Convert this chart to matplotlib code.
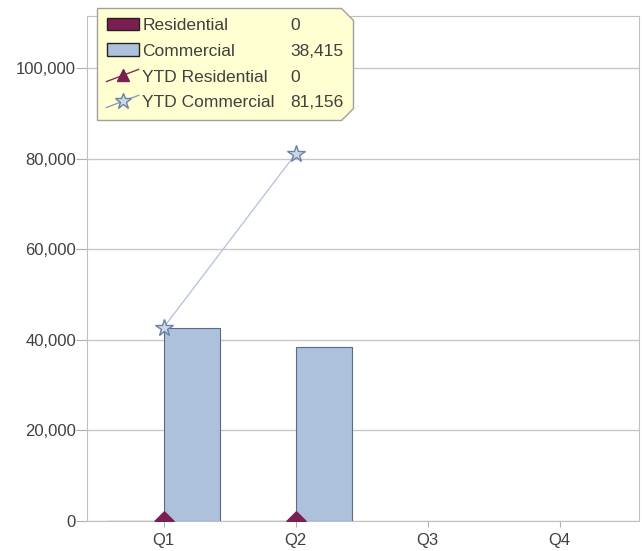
import numpy as np
import matplotlib
matplotlib.use('Agg')
import matplotlib.pyplot as plt
from matplotlib.lines import Line2D
from matplotlib.patches import Patch
from matplotlib.path import Path
from matplotlib.legend_handler import HandlerBase
from matplotlib.ticker import FuncFormatter

quarters = ['Q1', 'Q2', 'Q3', 'Q4']
residential = [0, 0, np.nan, np.nan]
commercial = [42741, 38415, np.nan, np.nan]
ytd_residential = [0, 0, np.nan, np.nan]
ytd_commercial = [42741, 81156, np.nan, np.nan]
series_names = ['Residential', 'Commercial', 'YTD Residential', 'YTD Commercial']

plt.rcParams['font.family'] = ['Liberation Sans', 'DejaVu Sans']

res_color = '#7b1f52'
com_color = '#aec1dc'
com_edge = '#5b6b82'
line_color = '#b9c6da'
star_edge = '#6c82a6'
text_color = '#404040'

fig = plt.figure(figsize=(6.42, 5.51), dpi=100)
ax = fig.add_axes([87 / 642, 30 / 551, 552 / 642, 505 / 551])

x = np.arange(len(quarters))
bw = 0.43
ax.bar(x, residential, width=-bw, align='edge', color=res_color, edgecolor='#3a1028', lw=0.8, zorder=3)
ax.bar(x, commercial, width=bw, align='edge', color=com_color, edgecolor=com_edge, lw=0.8, zorder=3)
# ytd residential: line hidden under the axis, markers (upper half only) on top
half_tri = [(-1, 0), (1, 0), (0, 1), (-1, 0)]
ax.plot(x, ytd_residential, color='#c0c0c0', lw=0.6, zorder=1)
ax.plot(x, ytd_residential, ls='', marker=half_tri, ms=14, mfc=res_color, mec=res_color, zorder=4)
ax.plot(x, ytd_commercial, color=line_color, lw=1, marker='*', ms=13,
        mfc='#cdd7e6', mec=star_edge, mew=1, zorder=4, clip_on=False)

ax.set_xlim(-0.58, 3.6)
ax.set_ylim(0, 111600)
ax.set_yticks(np.arange(0, 100001, 20000))
ax.yaxis.set_major_formatter(FuncFormatter(lambda v, p: f'{int(v):,}'))
ax.set_xticks(x)
ax.set_xticklabels(quarters)
ax.grid(axis='y', color='#c8c8c8', lw=1, zorder=0)
for s in ax.spines.values():
    s.set_color('#c0c0c0')
ax.tick_params(colors='#b0b0b0', labelcolor=text_color, labelsize=12, length=8, pad=0)
ax.tick_params(axis='x', length=4, pad=5)


class DiagHandler(HandlerBase):
    def create_artists(self, legend, orig, xd, yd, w, h, fontsize, trans):
        ln = Line2D([-xd, -xd + w], [-yd, -yd + h], color=orig.get_color(), lw=1, transform=trans)
        mk = Line2D([-xd + w / 2], [-yd + h / 2], ls='', marker=orig.get_marker(), ms=orig.get_markersize() * 0.9,
                    mfc=orig.get_markerfacecolor(), mec=orig.get_markeredgecolor(), transform=trans)
        return [ln, mk]


def last_value(vals):
    vals = [v for v in vals if not np.isnan(v)]
    return f'{int(vals[-1]):,}'


handles = [
    Patch(facecolor=res_color, edgecolor='#222222', lw=1),
    Patch(facecolor=com_color, edgecolor='#222222', lw=1),
    Line2D([], [], color='#8a2a5c', marker='^', ms=10, mfc=res_color, mec=res_color),
    Line2D([], [], color='#8a9cc0', marker='*', ms=13, mfc='#cdd7e6', mec=star_edge),
]
values = [last_value(v) for v in [residential, commercial, ytd_residential, ytd_commercial]]
blank = [Line2D([], [], ls='', marker='') for _ in values]

leg = fig.legend(handles + blank, series_names + values, ncol=2, loc='upper left',
                 bbox_to_anchor=(97 / 642, 1 - 8 / 551), bbox_transform=fig.transFigure,
                 borderaxespad=0, fontsize=12.5, handlelength=1.85, handleheight=0.7,
                 handletextpad=0.2, columnspacing=-1.15, labelspacing=0.62,
                 borderpad=0.55, labelcolor=text_color, fancybox=False,
                 handler_map={handles[2]: DiagHandler(), handles[3]: DiagHandler()})


def cut_box(x0, y0, width, height, mutation_size):
    c = min(width, height) * 0.11
    verts = [(x0, y0), (x0 + width - c, y0), (x0 + width, y0 + c),
             (x0 + width, y0 + height - c), (x0 + width - c, y0 + height),
             (x0, y0 + height), (x0, y0)]
    return Path(verts, closed=True)


frame = leg.get_frame()
frame.set_boxstyle(cut_box)
frame.set_facecolor('#ffffd2')
frame.set_edgecolor('#a0a0a0')
frame.set_linewidth(1)
frame.set_alpha(1)
leg.set_zorder(10)

fig.savefig('out.png', dpi=100)
